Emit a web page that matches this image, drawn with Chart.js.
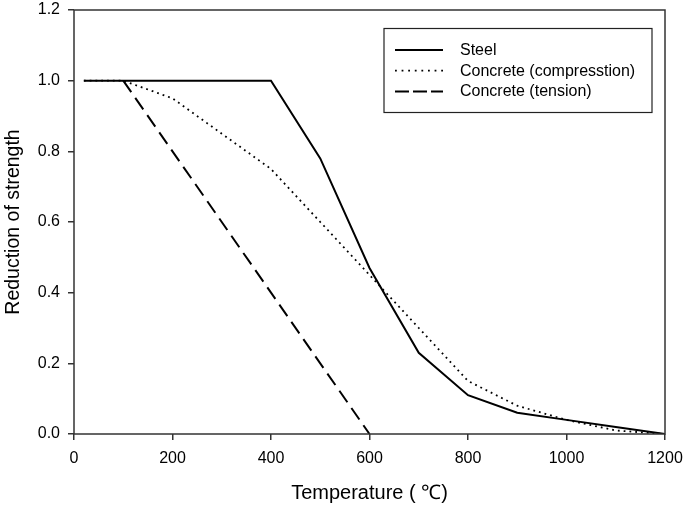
<!DOCTYPE html>
<html><head><meta charset="utf-8">
<script src="https://cdn.jsdelivr.net/npm/chart.js@4"></script>
<style>html,body{margin:0;padding:0;background:#fff}#w{width:685px;height:507px}</style>
</head><body><div id="w"><canvas id="c"></canvas></div>
<script>
const temps = [20,100,200,300,400,500,600,700,800,900,1000,1100,1200];
const steel = [1,1,1,1,1,0.78,0.47,0.23,0.11,0.06,0.04,0.02,0];
const concComp = [1,1,0.95,0.85,0.75,0.60,0.45,0.30,0.15,0.08,0.04,0.01,0];
const tensTemps = [100,600];
const concTens = [1,0];
const seriesNames = ['Steel','Concrete (compresstion)','Concrete (tension)'];
const xTicks = [0,200,400,600,800,1000,1200];
const yTicks = [0,0.2,0.4,0.6,0.8,1.0,1.2];

const pts = (xs, ys) => xs.map((x,i)=>({x, y: ys[i]}));
const FONT = "'Liberation Sans', Arial, sans-serif";

const framePlugin = {
  id:'frame',
  afterDatasetsDraw(chart){
    const {ctx, chartArea:a} = chart;
    ctx.save();
    ctx.strokeStyle='#333'; ctx.lineWidth=1.5;
    ctx.strokeRect(a.left, a.top, a.right-a.left, a.bottom-a.top);
    // legend
    const bx=384, by=28.5, bw=268, bh=84;
    ctx.fillStyle='#fff'; ctx.fillRect(bx,by,bw,bh);
    ctx.strokeStyle='#222'; ctx.lineWidth=1.2; ctx.strokeRect(bx,by,bw,bh);
    ctx.font = "16px " + FONT; ctx.fillStyle='#000'; ctx.textBaseline='middle';
    chart.data.datasets.forEach((ds,i)=>{
      const y = 50 + i*20.7;
      ctx.beginPath(); ctx.strokeStyle='#000'; ctx.lineWidth=ds.borderWidth;
      ctx.setLineDash(ds.legendDash||ds.borderDash||[]);
      ctx.moveTo(395,y); ctx.lineTo(443,y); ctx.stroke();
      ctx.setLineDash([]);
      ctx.fillText(ds.label, 460, y+0.5);
    });
    ctx.restore();
  }
};

new Chart(document.getElementById('c'), {
  type:'line',
  data:{ datasets:[
    {label:seriesNames[0], data:pts(temps,steel), borderColor:'#000', borderWidth:2, pointRadius:0, tension:0},
    {label:seriesNames[1], data:pts(temps,concComp), borderColor:'#000', borderWidth:1.8, borderDash:[1.8,4], legendDash:[1.8,4.8], pointRadius:0, tension:0},
    {label:seriesNames[2], data:pts(tensTemps,concTens), borderColor:'#000', borderWidth:2, borderDash:[14,7], legendDash:[14,4], pointRadius:0, tension:0}
  ]},
  options:{
    responsive:true, maintainAspectRatio:false, animation:false,
    layout:{padding:{top:10,right:20,left:0,bottom:0}},
    plugins:{legend:{display:false}, tooltip:{enabled:false}},
    scales:{
      x:{type:'linear', min:0, max:1200,
        afterBuildTicks(s){ s.ticks = xTicks.map(v=>({value:v})); },
        afterFit(s){ s.height = 73; s.paddingLeft = 0; s.paddingRight = 0; },
        grid:{drawOnChartArea:false, tickLength:6, color:'#333', lineWidth:1.5},
        border:{display:false},
        ticks:{color:'#000', font:{family:FONT, size:16}, padding:9, maxRotation:0, callback:v=>String(v)},
        title:{display:true, text:'Temperature ( ℃)', color:'#000', font:{family:FONT, size:20}, padding:{top:0,bottom:2}}
      },
      y:{type:'linear', min:0, max:1.2,
        afterBuildTicks(s){ s.ticks = yTicks.map(v=>({value:v})); },
        afterFit(s){ s.width = 74; s.paddingTop = 0; s.paddingBottom = 0; },
        grid:{drawOnChartArea:false, tickLength:6, color:'#333', lineWidth:1.5},
        border:{display:false},
        ticks:{color:'#000', font:{family:FONT, size:16}, padding:8, callback:v=>Number(v).toFixed(1)},
        title:{display:true, text:'Reduction of strength', color:'#000', font:{family:FONT, size:19.5}, padding:{top:2,bottom:0}}
      }
    }
  },
  plugins:[framePlugin]
});
</script></body></html>
